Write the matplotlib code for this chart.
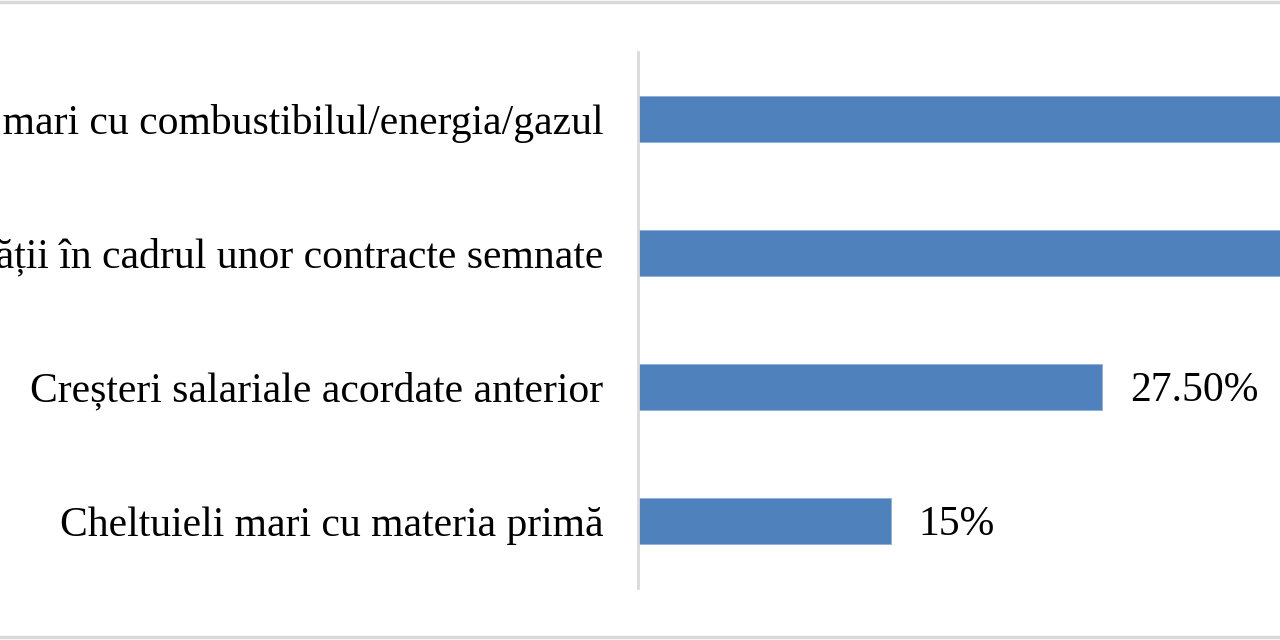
import matplotlib
matplotlib.use('Agg')
import matplotlib.pyplot as plt
from matplotlib.lines import Line2D

categories = ['Cheltuieli mari cu combustibilul/energia/gazul',
              'Majorarea cantității în cadrul unor contracte semnate',
              'Creșteri salariale acordate anterior',
              'Cheltuieli mari cu materia primă']
values = [55, 45, 27.5, 15]
value_labels = ['55%', '45%', '27.50%', '15%']

plt.rcParams['font.family'] = ['Liberation Serif', 'DejaVu Serif']

fig = plt.figure(figsize=(12.8, 6.4), dpi=100)
# the original chart is cropped: labels run off the left edge, long bars off the right
ax = fig.add_axes([638 / 1280, 0.08125, 60 * 16.87 / 1280, 0.8375])

y = range(len(categories))
rects = ax.barh(y, values, height=0.345, color='#4f81bd', edgecolor='#8fb0dc', linewidth=0.6)
ax.set_xlim(0, 60)
ax.set_ylim(3.5, -0.5)
ax.set_yticks(list(y))
ax.set_yticklabels(categories, fontsize=30)
ax.tick_params(axis='y', length=0, pad=25)
ax.set_xticks([])
for s in ['top', 'right', 'bottom']:
    ax.spines[s].set_visible(False)
ax.spines['left'].set_color('#d9d9d9')
ax.spines['left'].set_linewidth(2)

for rect, lab in zip(rects, value_labels):
    ax.annotate(lab, xy=(rect.get_width(), rect.get_y() + rect.get_height() / 2),
                xytext=(20, -3), textcoords='offset points',
                ha='left', va='center', fontsize=30, annotation_clip=False)

# outer chart frame (top and bottom edges visible in the crop)
fig.add_artist(Line2D([0, 1], [0.9975, 0.9975], color='#d9d9d9', linewidth=2.5, transform=fig.transFigure))
fig.add_artist(Line2D([0, 1], [0.0045, 0.0045], color='#d9d9d9', linewidth=2.5, transform=fig.transFigure))

fig.savefig('out.png', dpi=100)
